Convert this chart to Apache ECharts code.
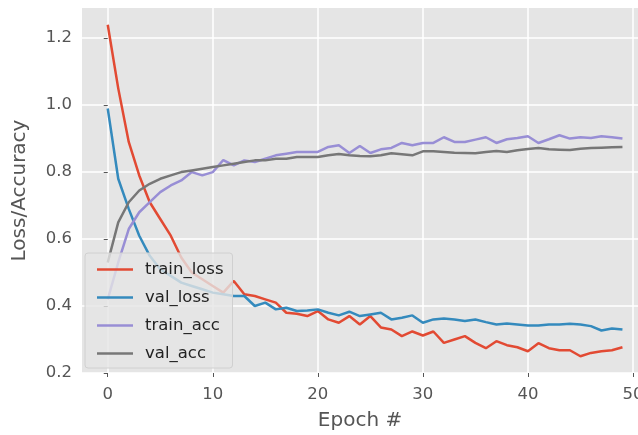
<!DOCTYPE html>
<html>
<head>
<meta charset="utf-8">
<style>
  html, body { margin: 0; padding: 0; background: #fff; }
  #container { width: 638px; height: 435px; }
</style>
<script src="https://cdn.jsdelivr.net/npm/echarts@6/dist/echarts.min.js"></script>
</head>
<body>
<div id="container"></div>
<script>
var dom = document.getElementById('container');
var myChart = echarts.init(dom, null, { renderer: 'canvas' });

// epochs 0..49
var epochs = [];
for (let i = 0; i < 50; i++) epochs.push(i);

var trainLoss = [1.24, 1.05, 0.89, 0.79, 0.71, 0.66, 0.61, 0.545, 0.50, 0.48,
    0.46, 0.44, 0.475, 0.435, 0.43, 0.42, 0.41, 0.38, 0.377, 0.37,
    0.385, 0.36, 0.35, 0.37, 0.345, 0.37, 0.336, 0.33, 0.31, 0.324,
    0.312, 0.324, 0.29, 0.30, 0.31, 0.29, 0.274, 0.295, 0.283, 0.277,
    0.265, 0.289, 0.274, 0.268, 0.268, 0.25, 0.26, 0.265, 0.268, 0.277];
var valLoss = [0.99, 0.78, 0.69, 0.61, 0.55, 0.51, 0.49, 0.47, 0.46, 0.45,
    0.44, 0.435, 0.43, 0.43, 0.40, 0.41, 0.39, 0.395, 0.385, 0.387,
    0.39, 0.38, 0.372, 0.383, 0.37, 0.375, 0.38, 0.36, 0.365, 0.372,
    0.35, 0.36, 0.363, 0.36, 0.355, 0.36, 0.352, 0.345, 0.348, 0.345,
    0.342, 0.342, 0.345, 0.345, 0.347, 0.345, 0.34, 0.327, 0.333, 0.33];
var trainAcc = [0.42, 0.53, 0.63, 0.68, 0.71, 0.74, 0.76, 0.775, 0.80, 0.79,
    0.80, 0.836, 0.82, 0.835, 0.83, 0.84, 0.85, 0.855, 0.86, 0.86,
    0.86, 0.875, 0.88, 0.857, 0.878, 0.857, 0.868, 0.872, 0.887, 0.88,
    0.887, 0.887, 0.904, 0.89, 0.89, 0.897, 0.904, 0.887, 0.898, 0.902,
    0.907, 0.887, 0.898, 0.91, 0.90, 0.904, 0.902, 0.907, 0.904, 0.90];
var valAcc = [0.53, 0.65, 0.71, 0.745, 0.765, 0.78, 0.79, 0.80, 0.805, 0.81,
    0.815, 0.82, 0.825, 0.83, 0.835, 0.835, 0.84, 0.84, 0.845, 0.845,
    0.845, 0.85, 0.854, 0.85, 0.848, 0.847, 0.85, 0.856, 0.853, 0.85,
    0.862, 0.862, 0.86, 0.858, 0.857, 0.856, 0.86, 0.863, 0.86, 0.865,
    0.869, 0.872, 0.868, 0.867, 0.866, 0.87, 0.872, 0.873, 0.874, 0.875];

var xTicks = [0, 10, 20, 30, 40, 50];
var yTicks = [0.2, 0.4, 0.6, 0.8, 1.0, 1.2];

var seriesNames = ['train_loss', 'val_loss', 'train_acc', 'val_acc'];
var seriesData = [trainLoss, valLoss, trainAcc, valAcc];
var colors = ['#E24A33', '#348ABD', '#988ED5', '#777777'];

var FONT = '"DejaVu Sans", sans-serif';

var option = {
    backgroundColor: '#ffffff',
    animation: false,
    color: colors,
    textStyle: { fontFamily: FONT },
    grid: {
        left: 82,
        right: 0,
        top: 8,
        bottom: 62,
        containLabel: false,
        outerBoundsMode: 'none',
        show: true,
        backgroundColor: '#E5E5E5',
        borderWidth: 0
    },
    legend: {
        orient: 'vertical',
        left: 85,
        top: 253,
        padding: [8, 9, 6, 12],
        itemGap: 11,
        itemWidth: 36,
        itemHeight: 2.5,
        icon: 'rect',
        backgroundColor: 'rgba(229,229,229,0.8)',
        borderColor: '#d0d0d0',
        borderWidth: 1,
        borderRadius: 3,
        textStyle: {
            fontFamily: FONT,
            fontSize: 16.5,
            color: '#222',
            padding: [0, 0, 0, 7]
        },
        data: seriesNames
    },
    xAxis: {
        type: 'value',
        min: -2.45,
        max: 50.48,   // plot runs past the right edge of the picture
        name: 'Epoch #',
        nameLocation: 'middle',
        nameGap: 38,
        nameTextStyle: { fontFamily: FONT, fontSize: 20, color: '#555555' },
        axisLine: { show: false },
        axisTick: { show: true, customValues: xTicks, length: 4, lineStyle: { color: '#555555', width: 1 } },
        axisLabel: { customValues: xTicks, margin: 13, fontFamily: FONT, fontSize: 16.5, color: '#555555' },
        splitLine: { show: true, customValues: xTicks, lineStyle: { color: '#ffffff', width: 1.5 } }
    },
    yAxis: {
        type: 'value',
        min: 0.2,
        max: 1.29,
        name: 'Loss/Accuracy',
        nameLocation: 'middle',
        nameGap: 52,
        nameTextStyle: { fontFamily: FONT, fontSize: 20, color: '#555555' },
        axisLine: { show: false },
        axisTick: { show: true, customValues: yTicks, length: 4, lineStyle: { color: '#555555', width: 1 } },
        axisLabel: {
            customValues: yTicks, margin: 10, fontFamily: FONT, fontSize: 16.5, color: '#555555',
            formatter: function (v) { return v.toFixed(1); }
        },
        splitLine: { show: true, customValues: yTicks, lineStyle: { color: '#ffffff', width: 1.5 } }
    },
    series: seriesNames.map(function (name, k) {
        return {
            name: name,
            type: 'line',
            symbol: 'none',
            z: 2,
            lineStyle: { width: 2.5, color: colors[k] },
            itemStyle: { color: colors[k] },
            data: epochs.map(function (e, i) { return [e, seriesData[k][i]]; })
        };
    })
};

myChart.setOption(option);
window.addEventListener('resize', myChart.resize);
</script>
</body>
</html>
